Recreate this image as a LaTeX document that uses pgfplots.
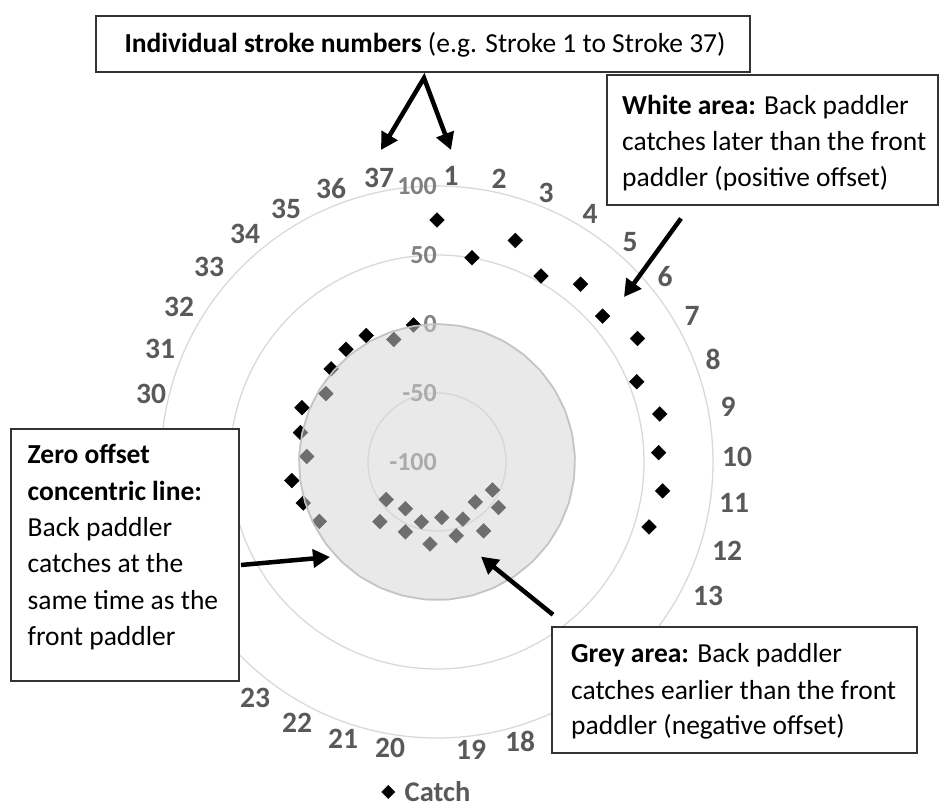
\documentclass[border=0pt]{standalone}
\usepackage{pgfplots}
\pgfplotsset{compat=1.18}
\usepgfplotslibrary{polar}
\usepackage{pgfplotstable}
\usepackage{fontspec}
\setmainfont{Carlito}
\usetikzlibrary{arrows.meta}

\definecolor{ringgray}{RGB}{217,217,217}
\definecolor{labgray}{RGB}{89,89,89}
\definecolor{radgray}{RGB}{128,128,128}
\definecolor{fillgray}{RGB}{212,212,212}
\definecolor{edgegray}{RGB}{196,196,196}

\pgfplotstableread{
k v
1 75.4
2 50.1
3 70.3
4 54.4
5 65.6
6 59.9
7 70.6
8 56.0
9 65.1
10 60.7
11 64.9
12 60.7
13 -54.9
14 -44.6
15 -59.9
16 -39.7
17 -54.6
18 -44.7
19 -59.6
20 -40.4
21 -55.2
22 -44.4
23 -59.2
24 -40.2
25 -54.3
26 -4.5
27 1.4
28 6.1
29 -5.5
30 1.2
31 5.5
32 -5.4
33 2.2
34 5.0
35 5.0
36 -5.9
37 0.7
}\catchdata

\pgfplotstableread{
k v
1 0
2 0
3 0
4 0
5 0
6 0
7 0
8 0
9 0
10 0
11 0
12 0
13 0
14 0
15 0
16 0
17 0
18 0
19 0
20 0
21 0
22 0
23 0
24 0
25 0
26 0
27 0
28 0
29 0
30 0
31 0
32 0
33 0
34 0
35 0
36 0
37 0
38 0
}\zerodata

\newcommand{\boxfont}{\fontsize{27.5bp}{36bp}\selectfont}
\newcommand{\stk}{\fontsize{29.5bp}{29.5bp}\selectfont\bfseries\color{labgray}}
\newcommand{\radf}{\fontsize{26bp}{26bp}\selectfont\bfseries}

\pgfplotsset{radarbase/.style={
  at={(437bp,345bp)}, anchor=origin,
  scale only axis, width=552bp, height=552bp,
  xmin=0, xmax=360, ymin=0, ymax=200,
  xtick=\empty,
  major tick length=0pt,
  axis line style={draw=none},
  clip=false}}

\begin{document}
\begin{tikzpicture}[x=1bp,y=1bp]
\path[use as bounding box] (0,0) rectangle (943,807);
% markers, rings and radial labels
\begin{polaraxis}[
  radarbase,
  ytick={50,100,150,200},
  yticklabels={},
  ymajorgrids,
  grid style={ringgray, line width=1.3bp},
  legend image code/.code={\draw[#1, mark size=4.6bp] plot coordinates {(0bp,0bp)};},
  legend style={at={(0.3995,-0.0978)}, anchor=west, draw=none, fill=none,
    inner sep=0pt, column sep=10bp, nodes={inner sep=0pt},
    font=\fontsize{28.5bp}{28.5bp}\selectfont\bfseries\color{labgray}},
]
\addplot[only marks, mark=square*, mark size=5.2bp,
  mark options={rotate=45, fill=black, draw=black}]
  table[x expr={mod(450-(\thisrow{k}-1)*360/37,360)}, y expr={\thisrow{v}+100}] {\catchdata};
\addlegendentry{Catch}

\node[anchor=east, inner sep=0pt, radgray, font=\radf] at (axis cs:90,200) {100};
\node[anchor=east, inner sep=0pt, radgray, font=\radf] at (axis cs:90,150) {50};
\node[anchor=east, inner sep=0pt, radgray, font=\radf] at (axis cs:90,100) {0};
\node[anchor=east, inner sep=0pt, radgray, font=\radf] at (axis cs:90,50) {-50};
\node[anchor=east, inner sep=0pt, radgray, font=\radf] at (axis cs:90,0) {-100};
\end{polaraxis}
% translucent zero-offset area on top
\begin{polaraxis}[radarbase, ytick=\empty]
\addplot[fill=fillgray, fill opacity=0.52, draw=edgegray, line width=1.6bp, mark=none]
  table[x expr={mod(450-(\thisrow{k}-1)*360/37,360)}, y expr={\thisrow{v}+100}] {\zerodata};
\end{polaraxis}

% stroke number labels (14-17 and 24-29 lie under the annotation boxes)
\node[font=\stk] at (451,807-176) {1};
\node[font=\stk] at (499,807-179) {2};
\node[font=\stk] at (546,807-193) {3};
\node[font=\stk] at (590,807-214) {4};
\node[font=\stk] at (630,807-242) {5};
\node[font=\stk] at (665,807-277) {6};
\node[font=\stk] at (692,807-316) {7};
\node[font=\stk] at (713,807-359) {8};
\node[font=\stk] at (728,807-407) {9};
\node[font=\stk] at (737,807-457) {10};
\node[font=\stk] at (734,807-503) {11};
\node[font=\stk] at (727,807-551) {12};
\node[font=\stk] at (708,807-596) {13};
\node[font=\stk] at (520,807-741) {18};
\node[font=\stk] at (471,807-750) {19};
\node[font=\stk] at (390,807-748) {20};
\node[font=\stk] at (343,807-739) {21};
\node[font=\stk] at (297,807-723) {22};
\node[font=\stk] at (255,807-698) {23};
\node[font=\stk] at (151,807-394) {30};
\node[font=\stk] at (160,807-349) {31};
\node[font=\stk] at (179,807-307) {32};
\node[font=\stk] at (209,807-267) {33};
\node[font=\stk] at (245,807-234) {34};
\node[font=\stk] at (286,807-209) {35};
\node[font=\stk] at (331,807-189) {36};
\node[font=\stk] at (379,807-178) {37};

% annotation boxes
\draw[line width=1.4bp, draw=black!80, fill=white] (96,807-16) rectangle (750,807-72);
\node[anchor=base, inner sep=0pt, font=\boxfont] at (425,807-53)
  {\textbf{Individual stroke numbers} (e.g. Stroke 1 to Stroke 37)};

\draw[line width=1.4bp, draw=black!80, fill=white] (607,807-75) rectangle (938,807-205);
\node[anchor=base west, inner sep=0pt, font=\boxfont] at (622,807-115) {\textbf{White area:} Back paddler};
\node[anchor=base west, inner sep=0pt, font=\boxfont] at (622,807-151) {catches later than the front};
\node[anchor=base west, inner sep=0pt, font=\boxfont] at (622,807-187) {paddler (positive offset)};

\draw[line width=1.4bp, draw=black!80, fill=white] (11,807-429) rectangle (239,807-681);
\node[anchor=base west, inner sep=0pt, font=\boxfont] at (27.5,807-464) {\textbf{Zero offset}};
\node[anchor=base west, inner sep=0pt, font=\boxfont] at (27.5,807-500.3) {\textbf{concentric line:}};
\node[anchor=base west, inner sep=0pt, font=\boxfont] at (27.5,807-536.6) {Back paddler};
\node[anchor=base west, inner sep=0pt, font=\boxfont] at (27.5,807-573) {catches at the};
\node[anchor=base west, inner sep=0pt, font=\boxfont] at (27.5,807-609.2) {same time as the};
\node[anchor=base west, inner sep=0pt, font=\boxfont] at (27.5,807-645.5) {front paddler};

\draw[line width=1.4bp, draw=black!80, fill=white] (552,807-627) rectangle (917,807-753);
\node[anchor=base west, inner sep=0pt, font=\boxfont] at (571,807-662.7) {\textbf{Grey area:} Back paddler};
\node[anchor=base west, inner sep=0pt, font=\boxfont] at (571,807-699.3) {catches earlier than the front};
\node[anchor=base west, inner sep=0pt, font=\boxfont] at (571,807-735) {paddler (negative offset)};

% arrows
\draw[line width=4.5bp, line join=miter, {Triangle[length=17bp,width=18bp]}-{Triangle[length=17bp,width=18bp]}]
  (381,807-150) -- (424,807-78) -- (451,807-150);
\draw[line width=4.5bp, -{Triangle[length=17bp,width=18bp]}] (681,807-218.5) -- (624,807-297);
\draw[line width=4.5bp, -{Triangle[length=17bp,width=18bp]}] (241,807-565) -- (330,807-557);
\draw[line width=4.5bp, -{Triangle[length=17bp,width=18bp]}] (553,807-614.7) -- (481,807-556.6);
\end{tikzpicture}
\end{document}
